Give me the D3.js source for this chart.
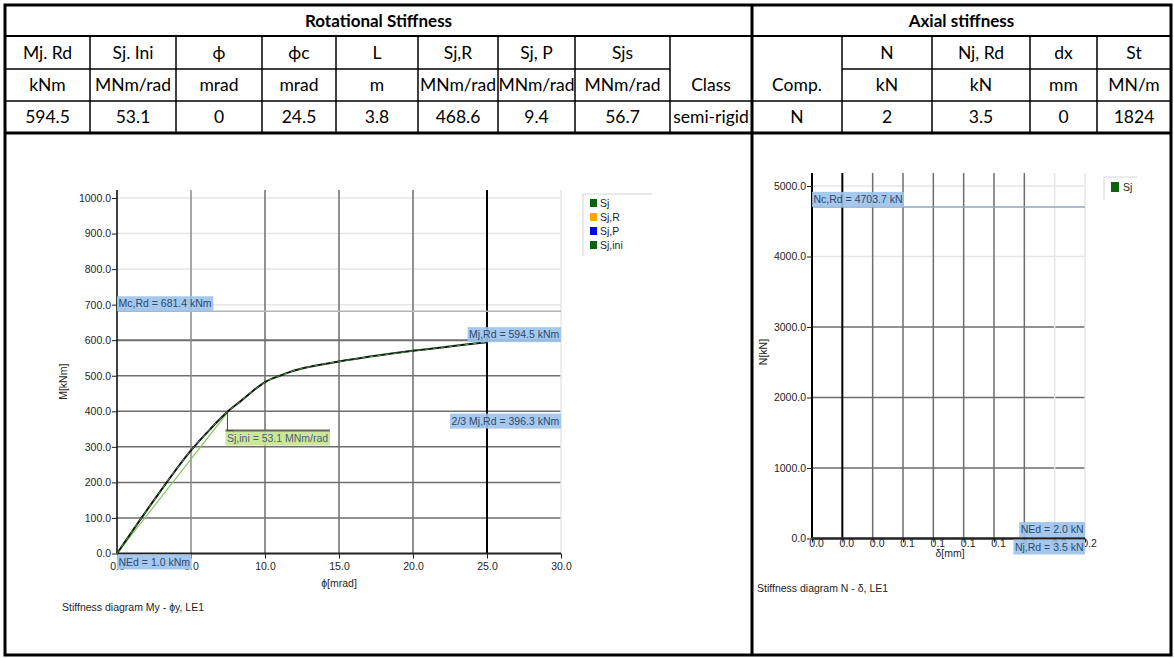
<!DOCTYPE html>
<html>
<head>
<meta charset="utf-8">
<script src="https://cdn.jsdelivr.net/npm/d3@7"></script>
<style>
  body { margin: 0; background: #fff; }
  svg { display: block; }
  .tbl { font-family: Lato, "Open Sans", sans-serif; font-size: 17.5px; fill: #000; }
  .tbl.title { font-weight: bold; font-size: 17px; }
  .ch { font-family: "Liberation Sans", Arial, sans-serif; font-size: 10.5px; fill: #1e1e1e; }
  .lbl { font-family: "Liberation Sans", Arial, sans-serif; font-size: 10.5px; }
</style>
</head>
<body>
<svg id="sheet" width="1174" height="658"></svg>
<script>
// ---- Summary table ----
const rotTitle = "Rotational Stiffness";
const rotHeaders = ["Mj. Rd", "Sj. Ini", "ϕ", "ϕc", "L", "Sj,R", "Sj, P", "Sjs", ""];
const rotUnits   = ["kNm", "MNm/rad", "mrad", "mrad", "m", "MNm/rad", "MNm/rad", "MNm/rad", "Class"];
const rotValues  = ["594.5", "53.1", "0", "24.5", "3.8", "468.6", "9.4", "56.7", "semi-rigid"];

const axTitle = "Axial stiffness";
const axHeaders = ["", "N", "Nj, Rd", "dx", "St"];
const axUnits   = ["Comp.", "kN", "kN", "mm", "MN/m"];
const axValues  = ["N", "2", "3.5", "0", "1824"];

// ---- Moment–rotation diagram ----
const phiSj = [0, 2.5, 5.0, 6.3, 7.5, 8.4, 9.2, 10, 11, 11.7, 13, 15, 20, 25];
const momSj = [0, 150, 290, 350, 400, 430, 458, 482, 500, 511, 525, 540, 570, 594.5];
const MjRd = 594.5, McRd = 681.4, MEd = 1.0, SjIni = 53.1;
const momTicks = [0, 100, 200, 300, 400, 500, 600, 700, 800, 900, 1000];
const phiTicks = [0, 5, 10, 15, 20, 25, 30];
const legendRot = ["Sj", "Sj,R", "Sj,P", "Sj,ini"];
const legendRotColors = ["#0b640b", "#ffa500", "#0000ff", "#0b640b"];

// ---- Axial force–displacement diagram ----
const deltaSj = [0, 0.0011];
const forceSj = [0, 2.0];
const NcRd = 4703.7, NEd = 2.0, NjRd = 3.5;
const forceTicks = [0, 1000, 2000, 3000, 4000, 5000];
const deltaTicks = [0, 0.02, 0.04, 0.06, 0.08, 0.10, 0.12, 0.14, 0.16, 0.18];

const svg = d3.select("#sheet");
svg.append("rect").attr("width", 1174).attr("height", 658).attr("fill", "#fff");

// ================= table =================
const colX = [5, 90, 176, 262, 336, 418, 498, 575, 670, 752, 842, 932, 1030, 1097, 1171];
const rowY = [5, 36, 69, 101, 133];
const T = svg.append("g");

function hline(g, x1, x2, y, w) {
  g.append("line").attr("x1", x1).attr("x2", x2).attr("y1", y).attr("y2", y)
    .attr("stroke", "#000").attr("stroke-width", w);
}
function vline(g, x, y1, y2, w) {
  g.append("line").attr("x1", x).attr("x2", x).attr("y1", y1).attr("y2", y2)
    .attr("stroke", "#000").attr("stroke-width", w);
}

hline(T, 5, 1171, rowY[1], 2);
hline(T, 5, 670, rowY[2], 1.5);
hline(T, 842, 1171, rowY[2], 1.5);
hline(T, 5, 1171, rowY[3], 1.5);
hline(T, 5, 1171, rowY[4], 3);
colX.slice(1, -1).forEach(x => { if (x !== 752) vline(T, x, rowY[1], rowY[4], 1.5); });
vline(T, 752, 5, 655, 3);
T.append("rect").attr("x", 5).attr("y", 5).attr("width", 1166).attr("height", 650)
  .attr("fill", "none").attr("stroke", "#000").attr("stroke-width", 3);

T.append("text").attr("class", "tbl title").attr("x", (5 + 752) / 2).attr("y", (rowY[0] + rowY[1]) / 2)
  .attr("dy", "0.36em").attr("text-anchor", "middle").text(rotTitle);
T.append("text").attr("class", "tbl title").attr("x", (752 + 1171) / 2).attr("y", (rowY[0] + rowY[1]) / 2)
  .attr("dy", "0.36em").attr("text-anchor", "middle").text(axTitle);

function tableRow(texts, startCol, r) {
  T.selectAll(null).data(texts).join("text")
    .attr("class", "tbl")
    .attr("x", (d, i) => (colX[startCol + i] + colX[startCol + i + 1]) / 2)
    .attr("y", (rowY[r] + rowY[r + 1]) / 2)
    .attr("dy", "0.36em").attr("text-anchor", "middle")
    .text(d => d);
}
tableRow(rotHeaders, 0, 1);
tableRow(rotUnits, 0, 2);
tableRow(rotValues, 0, 3);
tableRow(axHeaders, 9, 1);
tableRow(axUnits, 9, 2);
tableRow(axValues, 9, 3);

// ================= shared helpers =================
const LIGHT = "#e6e6e6", DARK = "#6e6e6e";

function boxLabel(g, text, ax, ay, hAlign, vAlign, fill, color) {
  const grp = g.append("g");
  const t = grp.append("text").attr("class", "lbl").attr("fill", color).text(text);
  const bb = t.node().getBBox();
  const w = bb.width + 3, h = 15;
  const x = hAlign === "left" ? ax : ax - w;
  const y = vAlign === "top" ? ay : ay - h;
  grp.insert("rect", "text").attr("x", x).attr("y", y).attr("width", w).attr("height", h)
    .attr("fill", fill).attr("opacity", 0.9);
  t.attr("x", x + 1.5).attr("y", y + h / 2).attr("dy", "0.35em");
  return { x, y, w, h };
}

function styleAxis(g) {
  g.attr("font-family", "\"Liberation Sans\", Arial, sans-serif").attr("font-size", 10.5).attr("color", "#1e1e1e");
  g.select(".domain").remove();
}

// ================= moment–rotation chart =================
const xL = d3.scaleLinear().domain([0, 30]).range([117, 561]);
const yL = d3.scaleLinear().domain([0, 1000]).range([553.5, 198]);
const topL = 190;
const L = svg.append("g");

// horizontal grid
L.selectAll(null).data(momTicks.filter(v => v > 0)).join("line")
  .attr("x1", xL(0)).attr("x2", xL(30))
  .attr("y1", d => yL(d)).attr("y2", d => yL(d))
  .attr("stroke", d => d >= 700 ? LIGHT : DARK)
  .attr("stroke-width", d => d === 600 ? 2 : 1.5);
// vertical grid
L.selectAll(null).data(phiTicks.filter(v => v > 0)).join("line")
  .attr("x1", d => xL(d)).attr("x2", d => xL(d))
  .attr("y1", topL).attr("y2", yL(0))
  .attr("stroke", d => d === 25 ? "#000" : d === 30 ? LIGHT : d === 5 ? "#8a8a8a" : DARK)
  .attr("stroke-width", d => d === 25 ? 2 : 1.5);
// Mc,Rd level
L.append("line").attr("x1", xL(0)).attr("x2", xL(30)).attr("y1", yL(McRd)).attr("y2", yL(McRd))
  .attr("stroke", "#b4b4b4").attr("stroke-width", 1.5);

// axes
L.append("line").attr("x1", xL(0)).attr("x2", xL(0)).attr("y1", topL).attr("y2", yL(0))
  .attr("stroke", "#000").attr("stroke-width", 1.5);
L.append("line").attr("x1", xL(0)).attr("x2", xL(30)).attr("y1", yL(0)).attr("y2", yL(0))
  .attr("stroke", "#222").attr("stroke-width", 2);
const yAxL = L.append("g").attr("transform", `translate(${xL(0)},0)`)
  .call(d3.axisLeft(yL).tickValues(momTicks).tickFormat(d3.format(".1f")).tickSize(5).tickPadding(1));
styleAxis(yAxL);
const xAxL = L.append("g").attr("transform", `translate(0,${yL(0)})`)
  .call(d3.axisBottom(xL).tickValues(phiTicks).tickFormat(d3.format(".1f")).tickSize(5).tickPadding(4));
styleAxis(xAxL);

// Sj,ini secant
const phiIni = (2 / 3 * MjRd) / SjIni;
L.append("line").attr("x1", xL(0)).attr("y1", yL(0)).attr("x2", xL(phiIni)).attr("y2", yL(2 / 3 * MjRd))
  .attr("stroke", "#86c860").attr("stroke-width", 1.2);
// Sj curve
const curve = d3.line().x(d => xL(d[0])).y(d => yL(d[1])).curve(d3.curveMonotoneX);
const sjPts = d3.zip(phiSj, momSj);
L.append("path").attr("d", curve(sjPts)).attr("fill", "none").attr("stroke", "#111").attr("stroke-width", 2);
L.append("path").attr("d", curve(sjPts)).attr("fill", "none").attr("stroke", "#3caa3c")
  .attr("stroke-width", 1).attr("stroke-dasharray", "4,4");

// value labels
const blueFill = "#9cc2ea", blueText = "#2c4a70";
boxLabel(L, `Mc,Rd = ${McRd.toFixed(1)} kNm`, xL(0), yL(McRd), "left", "bottom", blueFill, blueText);
boxLabel(L, `Mj,Rd = ${MjRd.toFixed(1)} kNm`, xL(30), yL(MjRd), "right", "bottom", blueFill, blueText);
boxLabel(L, `2/3 Mj,Rd = ${(2 / 3 * MjRd).toFixed(1)} kNm`, xL(30), yL(2 / 3 * MjRd) + 1, "right", "top", blueFill, blueText);
boxLabel(L, `NEd = ${MEd.toFixed(1)} kNm`, xL(0), yL(0) + 1, "left", "top", blueFill, blueText);
// Sj,ini callout
const px = xL(phiIni), py = yL(2 / 3 * MjRd);
const gb = boxLabel(L, `Sj,ini = ${SjIni.toFixed(1)} MNm/rad`, px - 2, py + 18, "left", "top", "#c6e48e", "#4c6276");
L.append("line").attr("x1", gb.x).attr("x2", gb.x + gb.w).attr("y1", gb.y).attr("y2", gb.y)
  .attr("stroke", "#666").attr("stroke-width", 2);
L.append("path").attr("d", `M${px},${py}L${px},${gb.y}L${px + 6},${gb.y}`)
  .attr("fill", "none").attr("stroke", "#444").attr("stroke-width", 1);

// axis titles & caption
L.append("text").attr("class", "ch").attr("transform", `translate(67,${(yL(0) + topL) / 2 + 10}) rotate(-90)`)
  .attr("text-anchor", "middle").text("M[kNm]");
L.append("text").attr("class", "ch").attr("x", xL(15)).attr("y", 587).attr("text-anchor", "middle").text("ϕ[mrad]");
L.append("text").attr("class", "ch").attr("x", 62).attr("y", 611).text("Stiffness diagram My - ϕy, LE1");

// legend
const lgL = L.append("g");
lgL.append("path").attr("d", "M583,256L583,194L652,194").attr("fill", "none").attr("stroke", "#d4d4d4");
lgL.selectAll("rect").data(legendRot).join("rect")
  .attr("x", 590).attr("y", (d, i) => 199 + i * 14).attr("width", 7).attr("height", 8)
  .attr("fill", (d, i) => legendRotColors[i]);
lgL.selectAll("text").data(legendRot).join("text").attr("class", "ch")
  .attr("x", 600).attr("y", (d, i) => 203 + i * 14).attr("dy", "0.35em").text(d => d);

// ================= axial chart =================
const xR = d3.scaleLinear().domain([0, 0.18]).range([812, 1085]);
const yR = d3.scaleLinear().domain([0, 5000]).range([538.5, 186]);
const topR = 173;
const R = svg.append("g");

R.selectAll(null).data(forceTicks.filter(v => v > 0)).join("line")
  .attr("x1", xR(0)).attr("x2", xR(0.18))
  .attr("y1", d => yR(d)).attr("y2", d => yR(d))
  .attr("stroke", d => d >= 4000 ? LIGHT : DARK).attr("stroke-width", 1.5);
R.selectAll(null).data(deltaTicks.filter(v => v > 0)).join("line")
  .attr("x1", d => xR(d)).attr("x2", d => xR(d))
  .attr("y1", topR).attr("y2", yR(0))
  .attr("stroke", d => d < 0.03 ? "#000" : d > 0.15 ? LIGHT : DARK)
  .attr("stroke-width", d => d < 0.03 ? 2 : 1.5);
R.append("line").attr("x1", xR(0)).attr("x2", xR(0.18)).attr("y1", yR(NcRd)).attr("y2", yR(NcRd))
  .attr("stroke", "#8ea6c2").attr("stroke-width", 1.5);

R.append("line").attr("x1", xR(0)).attr("x2", xR(0)).attr("y1", topR).attr("y2", yR(0))
  .attr("stroke", "#000").attr("stroke-width", 2);
R.append("line").attr("x1", xR(0)).attr("x2", xR(0.18)).attr("y1", yR(0)).attr("y2", yR(0))
  .attr("stroke", "#222").attr("stroke-width", 2.5);
const yAxR = R.append("g").attr("transform", `translate(${xR(0)},0)`)
  .call(d3.axisLeft(yR).tickValues(forceTicks).tickFormat(d3.format(".1f")).tickSize(5).tickPadding(1));
styleAxis(yAxR);
const xAxR = R.append("g").attr("transform", `translate(0,${yR(0)})`)
  .call(d3.axisBottom(xR).tickValues(deltaTicks).tickFormat(d3.format(".1f")).tickSize(4).tickPadding(0));
styleAxis(xAxR);
xAxR.selectAll("text").attr("y", 1).attr("dx", 4);

R.append("path").attr("d", d3.line().x(d => xR(d[0])).y(d => yR(d[1]))(d3.zip(deltaSj, forceSj)))
  .attr("fill", "none").attr("stroke", "#0b640b").attr("stroke-width", 2);

boxLabel(R, `Nc,Rd = ${NcRd.toFixed(1)} kN`, xR(0), yR(NcRd), "left", "bottom", blueFill, blueText);
boxLabel(R, `NEd = ${NEd.toFixed(1)} kN`, xR(0.18), yR(0) - 1.5, "right", "bottom", blueFill, blueText);
boxLabel(R, `Nj,Rd = ${NjRd.toFixed(1)} kN`, xR(0.18), yR(0) + 1, "right", "top", blueFill, blueText);

R.append("text").attr("class", "ch").attr("transform", `translate(767,352) rotate(-90)`)
  .attr("text-anchor", "middle").text("N[kN]");
R.append("text").attr("class", "ch").attr("x", 950).attr("y", 557).attr("text-anchor", "middle").text("δ[mm]");
R.append("text").attr("class", "ch").attr("x", 757).attr("y", 592).text("Stiffness diagram N - δ, LE1");

const lgR = R.append("g");
lgR.append("path").attr("d", "M1104,200L1104,177L1137,177").attr("fill", "none").attr("stroke", "#d4d4d4");
lgR.append("rect").attr("x", 1111).attr("y", 182).attr("width", 8).attr("height", 10).attr("fill", legendRotColors[0]);
lgR.append("text").attr("class", "ch").attr("x", 1123).attr("y", 187).attr("dy", "0.35em").text(legendRot[0]);
</script>
</body>
</html>
